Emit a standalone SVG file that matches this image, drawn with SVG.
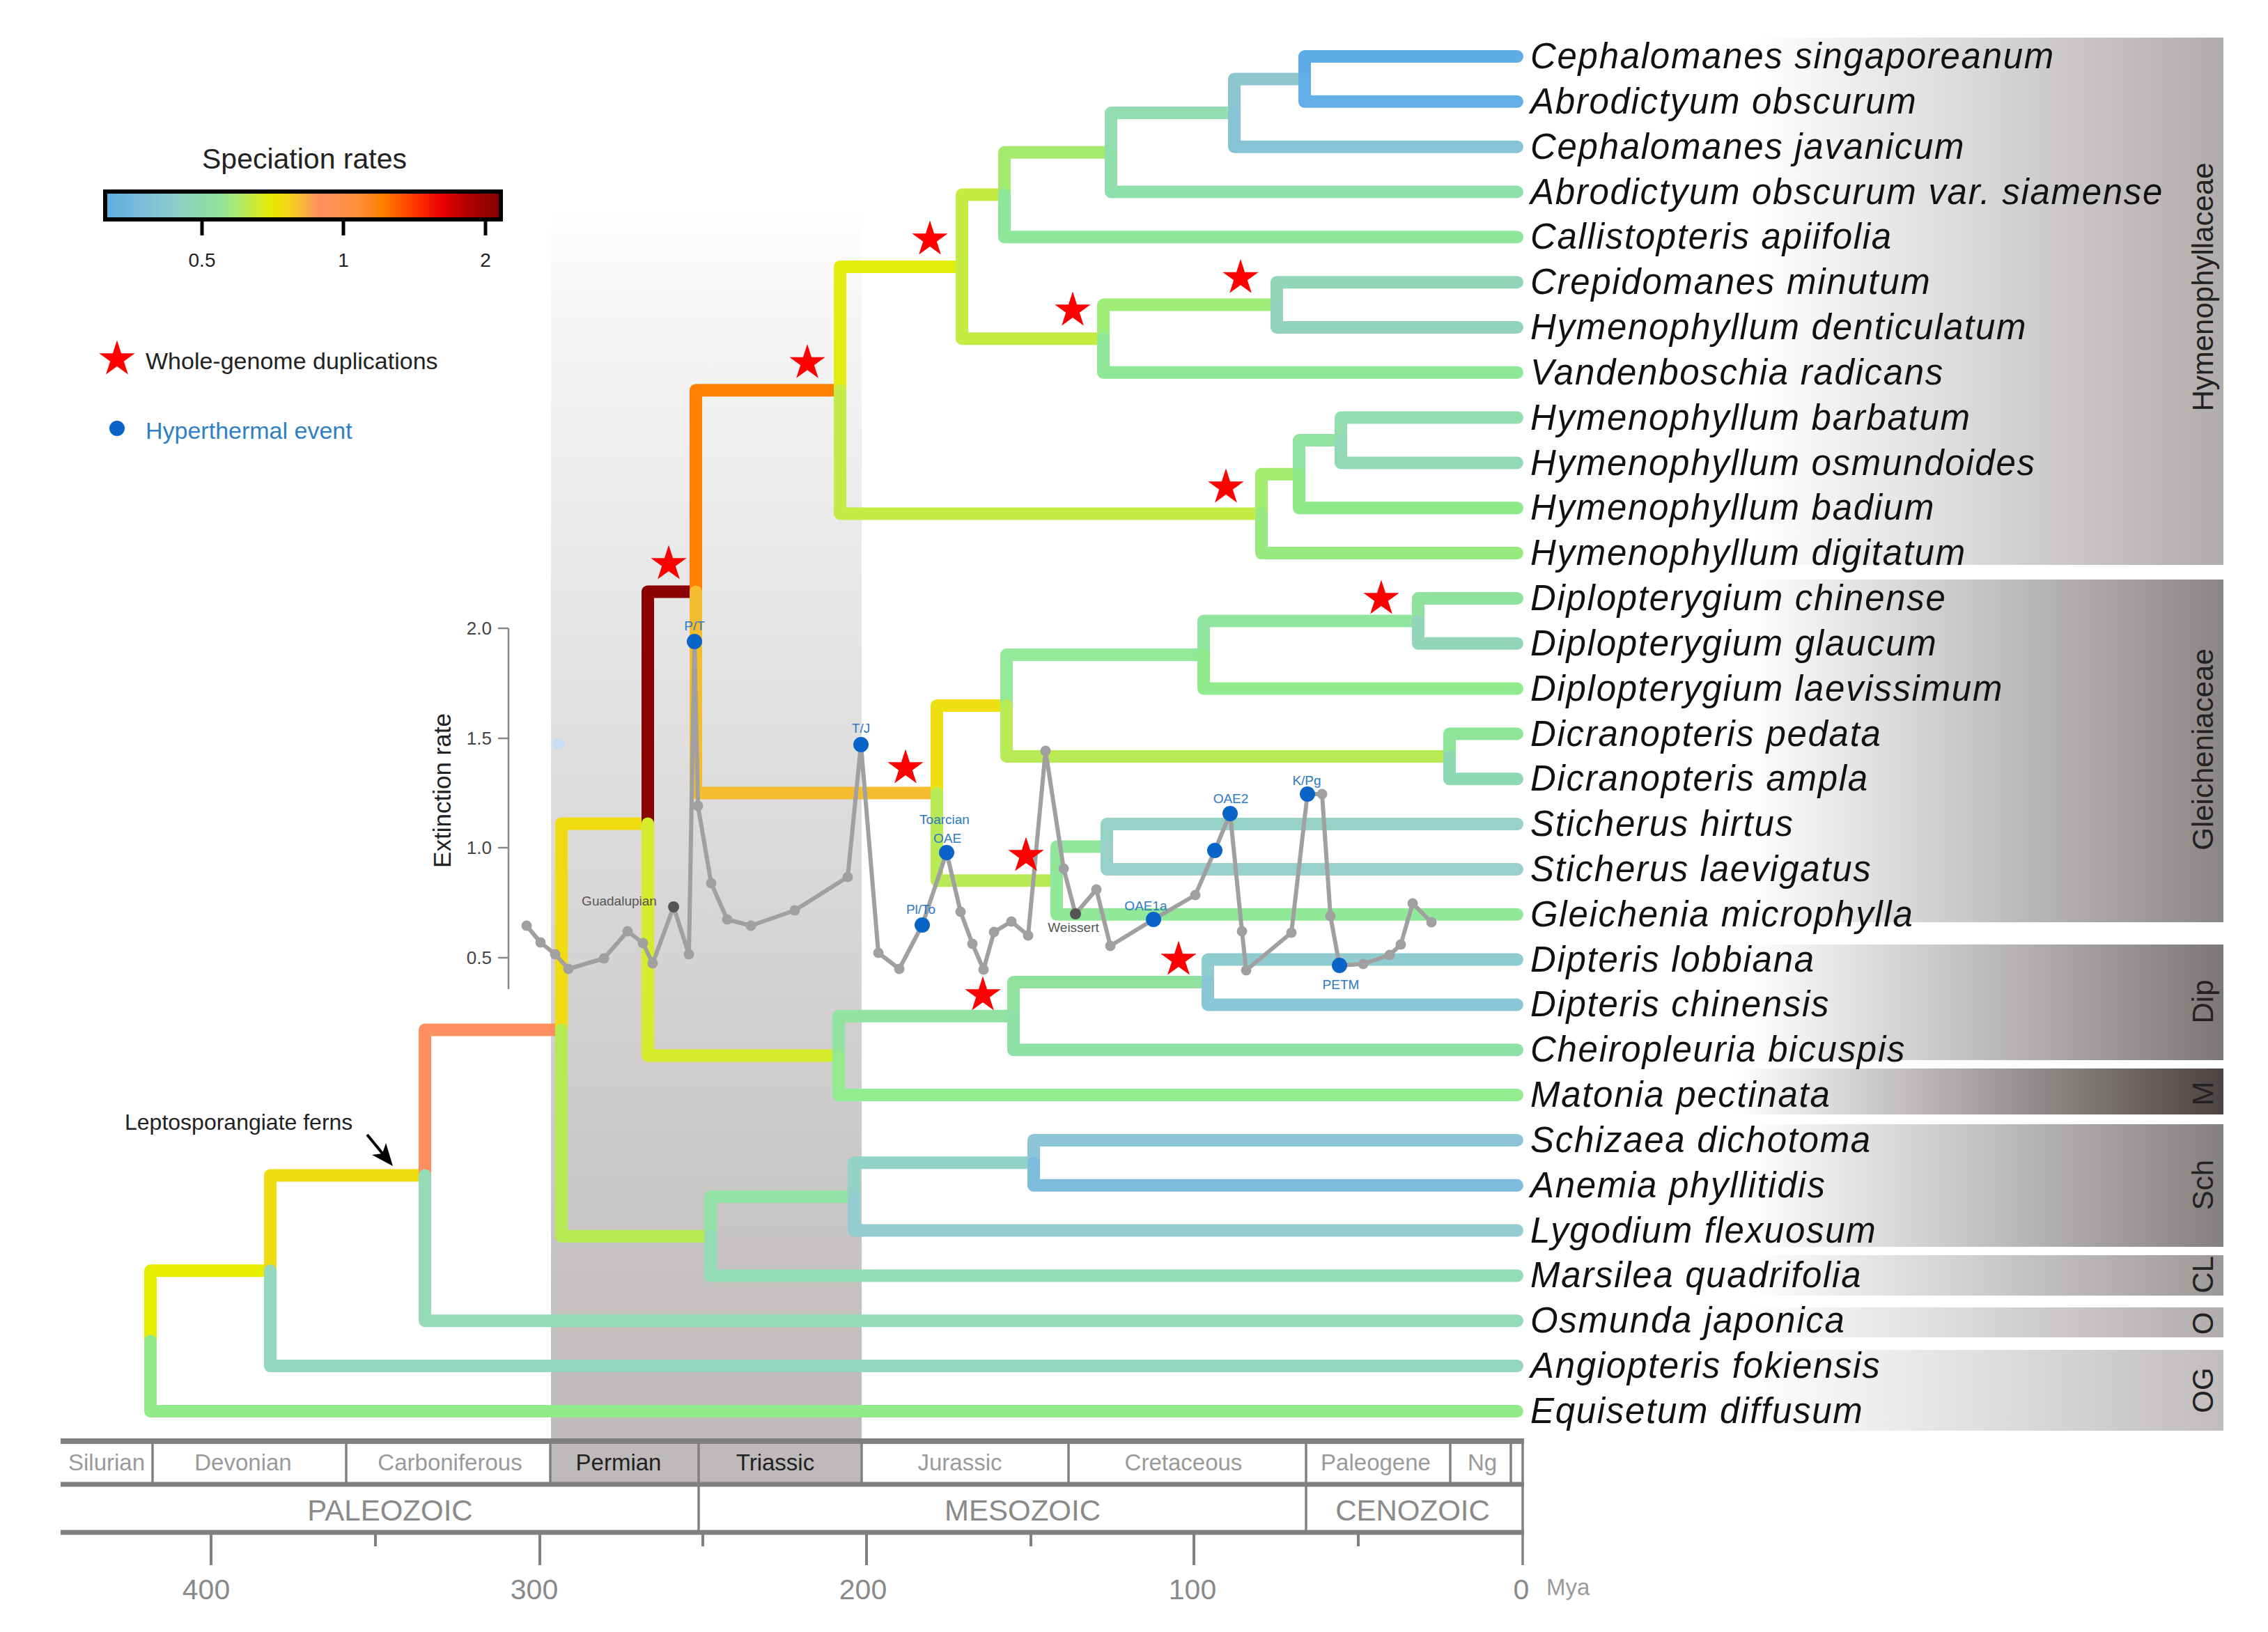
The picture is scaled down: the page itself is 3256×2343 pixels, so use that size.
<svg xmlns="http://www.w3.org/2000/svg" width="3256" height="2343" viewBox="0 0 3256 2343">
<style>
.br{fill:none;stroke-width:18;stroke-linecap:round;stroke-linejoin:round}
.tip{font-family:"Liberation Sans",Arial,sans-serif;font-style:italic;font-size:51px;letter-spacing:1.7px;fill:#111}
.grp{font-family:"Liberation Sans",Arial,sans-serif;font-size:42px;fill:#222;text-anchor:middle}
.per{font-family:"Liberation Sans",Arial,sans-serif;font-size:33px;fill:#9a9a9a;text-anchor:middle}
.perd{font-family:"Liberation Sans",Arial,sans-serif;font-size:33px;fill:#222;text-anchor:middle}
.era{font-family:"Liberation Sans",Arial,sans-serif;font-size:42px;fill:#8a8a8a;text-anchor:middle}
.axl{font-family:"Liberation Sans",Arial,sans-serif;font-size:41px;fill:#8a8a8a;text-anchor:middle}
.tl{stroke:#808080;fill:none}
.ev{font-family:"Liberation Sans",Arial,sans-serif;font-size:19px;fill:#2F78C4;text-anchor:middle}
.evg{font-family:"Liberation Sans",Arial,sans-serif;font-size:19px;fill:#555;text-anchor:middle}
.curve{fill:none;stroke:#A0A0A0;stroke-width:6;stroke-linejoin:round}
.gd{fill:#A0A0A0}
.bd{fill:#0A64C8}
.kd{fill:#555}
.lg{font-family:"Liberation Sans",Arial,sans-serif;fill:#222}
.yt{font-family:"Liberation Sans",Arial,sans-serif;font-size:26px;fill:#444;text-anchor:end}
.star{fill:#FF0000}
</style>
<defs>
<polygon id="star" points="0,-27 6.05,-8.33 25.68,-8.34 9.8,3.18 15.87,21.84 0,10.3 -15.87,21.84 -9.8,3.18 -25.68,-8.34 -6.05,-8.33"/>
<linearGradient id="band" x1="0" y1="0" x2="0" y2="1">
<stop offset="0" stop-color="#FFFFFF"/>
<stop offset="0.08" stop-color="#F6F6F6"/>
<stop offset="1" stop-color="#BDBAB9"/>
</linearGradient>
<linearGradient id="cbar" x1="0" y1="0" x2="1" y2="0">
<stop offset="0" stop-color="#5DADE2"/>
<stop offset="0.1" stop-color="#7EBDD8"/>
<stop offset="0.19" stop-color="#8ED0C5"/>
<stop offset="0.28" stop-color="#90E0A0"/>
<stop offset="0.32" stop-color="#A0E880"/>
<stop offset="0.36" stop-color="#C0EA50"/>
<stop offset="0.42" stop-color="#E8EA00"/>
<stop offset="0.47" stop-color="#F5D020"/>
<stop offset="0.54" stop-color="#FF9060"/>
<stop offset="0.63" stop-color="#FF9040"/>
<stop offset="0.7" stop-color="#FF8000"/>
<stop offset="0.79" stop-color="#FF3000"/>
<stop offset="0.85" stop-color="#E80000"/>
<stop offset="0.92" stop-color="#B00000"/>
<stop offset="1" stop-color="#800000"/>
</linearGradient>
<linearGradient id="gH" x1="0" y1="0" x2="1" y2="0"><stop offset="0" stop-color="#FFF"/><stop offset="0.33" stop-color="#FFF"/><stop offset="1" stop-color="#B0ACAB"/></linearGradient>
<linearGradient id="gG" x1="0" y1="0" x2="1" y2="0"><stop offset="0" stop-color="#FFF"/><stop offset="0.32" stop-color="#FFF"/><stop offset="1" stop-color="#8A8685"/></linearGradient>
<linearGradient id="gD" x1="0" y1="0" x2="1" y2="0"><stop offset="0" stop-color="#FFF"/><stop offset="0.32" stop-color="#FFF"/><stop offset="1" stop-color="#7C7776"/></linearGradient>
<linearGradient id="gM" x1="0" y1="0" x2="1" y2="0"><stop offset="0" stop-color="#FFF"/><stop offset="0.3" stop-color="#FFF"/><stop offset="1" stop-color="#4C4342"/></linearGradient>
<linearGradient id="gS" x1="0" y1="0" x2="1" y2="0"><stop offset="0" stop-color="#FFF"/><stop offset="0.32" stop-color="#FFF"/><stop offset="1" stop-color="#858080"/></linearGradient>
<linearGradient id="gC" x1="0" y1="0" x2="1" y2="0"><stop offset="0" stop-color="#FFF"/><stop offset="0.32" stop-color="#FFF"/><stop offset="1" stop-color="#9C9897"/></linearGradient>
<linearGradient id="gO" x1="0" y1="0" x2="1" y2="0"><stop offset="0" stop-color="#FFF"/><stop offset="0.32" stop-color="#FFF"/><stop offset="1" stop-color="#B0ACAB"/></linearGradient>
<linearGradient id="gOG" x1="0" y1="0" x2="1" y2="0"><stop offset="0" stop-color="#FFF"/><stop offset="0.32" stop-color="#FFF"/><stop offset="1" stop-color="#C0BDBC"/></linearGradient>
</defs>
<rect width="3256" height="2343" fill="#FFFFFF"/>

<!-- Permian-Triassic band -->
<rect id="pt-band" x="791" y="300" width="446" height="1769" fill="url(#band)"/>

<!-- clade boxes -->
<g id="clade-boxes">
<g id="box-Hymenophyllaceae"><rect x="2190" y="54" width="1002" height="757" fill="url(#gH)"/><text class="grp" transform="translate(3177,412) rotate(-90)">Hymenophyllaceae</text></g>
<g id="box-Gleicheniaceae"><rect x="2190" y="832" width="1002" height="492" fill="url(#gG)"/><text class="grp" transform="translate(3177,1076) rotate(-90)">Gleicheniaceae</text></g>
<g id="box-Dip"><rect x="2190" y="1356" width="1002" height="166" fill="url(#gD)"/><text class="grp" transform="translate(3177,1438) rotate(-90)">Dip</text></g>
<g id="box-M"><rect x="2190" y="1534" width="1002" height="66" fill="url(#gM)"/><text class="grp" transform="translate(3177,1570) rotate(-90)">M</text></g>
<g id="box-Sch"><rect x="2190" y="1614" width="1002" height="176" fill="url(#gS)"/><text class="grp" transform="translate(3177,1701) rotate(-90)">Sch</text></g>
<g id="box-CL"><rect x="2190" y="1802" width="1002" height="58" fill="url(#gC)"/><text class="grp" transform="translate(3177,1830) rotate(-90)">CL</text></g>
<g id="box-O"><rect x="2190" y="1877" width="1002" height="43" fill="url(#gO)"/><text class="grp" transform="translate(3177,1900) rotate(-90)">O</text></g>
<g id="box-OG"><rect x="2190" y="1938" width="1002" height="116" fill="url(#gOG)"/><text class="grp" transform="translate(3177,1996) rotate(-90)">OG</text></g>
</g>

<!-- tree branches -->
<g id="branches" class="br">
<path d="M216 1925.1V1824.25H388" stroke="#E8EC00"/>
<path d="M388 1824.25V1687.4H610" stroke="#F0DA10"/>
<path d="M610 1687.4V1478.55H806" stroke="#FF8F60"/>
<path d="M806 1478.55V1182.4H930" stroke="#F0DC10"/>
<path d="M930 1182.4V849.4H999" stroke="#8B0000"/>
<path d="M999 849.4V560.15H1206" stroke="#FF8000"/>
<path d="M1206 560.15V382.9H1381" stroke="#E5EC10"/>
<path d="M1381 382.9V279.55H1442" stroke="#C4EC42"/>
<path d="M1442 279.55V218.8H1595" stroke="#A3EA6E"/>
<path d="M1595 218.8V162.05H1772" stroke="#93DDB0"/>
<path d="M1772 162.05V113.4H1873" stroke="#8EC6CF"/>
<path d="M1873 113.4V81H2178" stroke="#5EACE6"/>
<path d="M1873 113.4V145.8H2178" stroke="#62AEE6"/>
<path d="M1772 162.05V210.7H2178" stroke="#86C3D6"/>
<path d="M1595 218.8V275.5H2178" stroke="#8EDFAA"/>
<path d="M1442 279.55V340.3H2178" stroke="#8EE69A"/>
<path d="M1381 382.9V486.2H1584" stroke="#C4EC42"/>
<path d="M1584 486.2V437.6H1833" stroke="#A0EC78"/>
<path d="M1833 437.6V405.2H2178" stroke="#92D5B8"/>
<path d="M1833 437.6V470H2178" stroke="#92D3BC"/>
<path d="M1584 486.2V534.8H2178" stroke="#8EE898"/>
<path d="M1206 560.15V737.4H1811" stroke="#C4EC45"/>
<path d="M1811 737.4V680.7H1865" stroke="#A2EC70"/>
<path d="M1865 680.7V632.05H1925" stroke="#92E4A2"/>
<path d="M1925 632.05V599.6H2178" stroke="#93DDAE"/>
<path d="M1925 632.05V664.5H2178" stroke="#93D9B5"/>
<path d="M1865 680.7V729.3H2178" stroke="#8EEA88"/>
<path d="M1811 737.4V794.1H2178" stroke="#98EA80"/>
<path d="M999 849.4V1138.6H1345" stroke="#F5BC30"/>
<path d="M1345 1138.6V1012.95H1445" stroke="#EEE012"/>
<path d="M1445 1012.95V940H1728" stroke="#93E998"/>
<path d="M1728 940V891.4H2036" stroke="#92E59E"/>
<path d="M2036 891.4V859H2178" stroke="#8EE29E"/>
<path d="M2036 891.4V923.8H2178" stroke="#92D5B8"/>
<path d="M1728 940V988.6H2178" stroke="#90EA8E"/>
<path d="M1445 1012.95V1085.9H2081" stroke="#B8EB55"/>
<path d="M2081 1085.9V1053.5H2178" stroke="#8EE59A"/>
<path d="M2081 1085.9V1118.3H2178" stroke="#8ED8B2"/>
<path d="M1345 1138.6V1264.2H1517" stroke="#B8EA55"/>
<path d="M1517 1264.2V1215.55H1589" stroke="#90E69A"/>
<path d="M1589 1215.55V1183.1H2178" stroke="#96D2C5"/>
<path d="M1589 1215.55V1248H2178" stroke="#98D0CC"/>
<path d="M1517 1264.2V1312.8H2178" stroke="#90E898"/>
<path d="M930 1182.4V1515.4H1204" stroke="#D4EC2C"/>
<path d="M1204 1515.4V1458.65H1455" stroke="#92E3A2"/>
<path d="M1455 1458.65V1410H1734" stroke="#90E29E"/>
<path d="M1734 1410V1377.6H2178" stroke="#8ECCD0"/>
<path d="M1734 1410V1442.4H2178" stroke="#8AC6D6"/>
<path d="M1455 1458.65V1507.3H2178" stroke="#8EE0A6"/>
<path d="M1204 1515.4V1572.1H2178" stroke="#92EB8E"/>
<path d="M806 1478.55V1774.7H1020" stroke="#B5EA52"/>
<path d="M1020 1774.7V1718H1226" stroke="#93E2A6"/>
<path d="M1226 1718V1669.35H1484" stroke="#93D3C5"/>
<path d="M1484 1669.35V1636.9H2178" stroke="#8CC6D6"/>
<path d="M1484 1669.35V1701.8H2178" stroke="#7EBCDE"/>
<path d="M1226 1718V1766.6H2178" stroke="#93CDD0"/>
<path d="M1020 1774.7V1831.4H2178" stroke="#93DCB5"/>
<path d="M610 1687.4V1896.2H2178" stroke="#95DBB8"/>
<path d="M388 1824.25V1961.1H2178" stroke="#95D7BE"/>
<path d="M216 1925.1V2025.9H2178" stroke="#92EB88"/>
</g>

<!-- tip labels -->
<g id="tip-labels" class="tip">
<g id="tip-0"><text x="2197" y="98">Cephalomanes singaporeanum</text></g>
<g id="tip-1"><text x="2197" y="162.8">Abrodictyum obscurum</text></g>
<g id="tip-2"><text x="2197" y="227.7">Cephalomanes javanicum</text></g>
<g id="tip-3"><text x="2197" y="292.5">Abrodictyum obscurum var. siamense</text></g>
<g id="tip-4"><text x="2197" y="357.3">Callistopteris apiifolia</text></g>
<g id="tip-5"><text x="2197" y="422.2">Crepidomanes minutum</text></g>
<g id="tip-6"><text x="2197" y="487">Hymenophyllum denticulatum</text></g>
<g id="tip-7"><text x="2197" y="551.8">Vandenboschia radicans</text></g>
<g id="tip-8"><text x="2197" y="616.6">Hymenophyllum barbatum</text></g>
<g id="tip-9"><text x="2197" y="681.5">Hymenophyllum osmundoides</text></g>
<g id="tip-10"><text x="2197" y="746.3">Hymenophyllum badium</text></g>
<g id="tip-11"><text x="2197" y="811.1">Hymenophyllum digitatum</text></g>
<g id="tip-12"><text x="2197" y="876">Diplopterygium chinense</text></g>
<g id="tip-13"><text x="2197" y="940.8">Diplopterygium glaucum</text></g>
<g id="tip-14"><text x="2197" y="1005.6">Diplopterygium laevissimum</text></g>
<g id="tip-15"><text x="2197" y="1070.5">Dicranopteris pedata</text></g>
<g id="tip-16"><text x="2197" y="1135.3">Dicranopteris ampla</text></g>
<g id="tip-17"><text x="2197" y="1200.1">Sticherus hirtus</text></g>
<g id="tip-18"><text x="2197" y="1265">Sticherus laevigatus</text></g>
<g id="tip-19"><text x="2197" y="1329.8">Gleichenia microphylla</text></g>
<g id="tip-20"><text x="2197" y="1394.6">Dipteris lobbiana</text></g>
<g id="tip-21"><text x="2197" y="1459.4">Dipteris chinensis</text></g>
<g id="tip-22"><text x="2197" y="1524.3">Cheiropleuria bicuspis</text></g>
<g id="tip-23"><text x="2197" y="1589.1">Matonia pectinata</text></g>
<g id="tip-24"><text x="2197" y="1653.9">Schizaea dichotoma</text></g>
<g id="tip-25"><text x="2197" y="1718.8">Anemia phyllitidis</text></g>
<g id="tip-26"><text x="2197" y="1783.6">Lygodium flexuosum</text></g>
<g id="tip-27"><text x="2197" y="1848.4">Marsilea quadrifolia</text></g>
<g id="tip-28"><text x="2197" y="1913.2">Osmunda japonica</text></g>
<g id="tip-29"><text x="2197" y="1978.1">Angiopteris fokiensis</text></g>
<g id="tip-30"><text x="2197" y="2042.9">Equisetum diffusum</text></g>
</g>

<!-- extinction rate plot -->
<g id="extinction-plot">
<g id="y-axis" stroke="#888" stroke-width="2.5">
<line x1="730" y1="902" x2="730" y2="1420"/>
<line x1="715" y1="902" x2="730" y2="902"/>
<line x1="715" y1="1060" x2="730" y2="1060"/>
<line x1="715" y1="1217" x2="730" y2="1217"/>
<line x1="715" y1="1375" x2="730" y2="1375"/>
</g>
<text class="yt" x="706" y="911">2.0</text>
<text class="yt" x="706" y="1069">1.5</text>
<text class="yt" x="706" y="1226">1.0</text>
<text class="yt" x="706" y="1384">0.5</text>
<text class="lg" font-size="35" text-anchor="middle" transform="translate(647,1135) rotate(-90)">Extinction rate</text>
<circle cx="802" cy="1068" r="9" fill="#C9DDF2"/>
<polyline class="curve" points="756,1329 776,1353 797,1370 816,1391 867,1376 901,1337 923,1354 937,1383 967,1302 989,1370 997,921 1002,1157 1021,1268 1044,1320 1078,1329 1141,1307 1217,1259 1236,1069 1261,1368 1291,1391 1324,1328 1359,1224 1379,1309 1396,1355 1412,1392 1427,1338 1452,1323 1476,1343 1501,1078 1527,1247 1544,1312 1574,1277 1594,1358 1656,1320 1716,1285 1744,1221 1766,1168 1783,1337 1789,1393 1854,1339 1877,1140 1898,1140 1910,1315 1923,1386 1957,1384 1995,1371 2011,1356 2028,1297 2055,1324"/>
<g class="gd">
<circle cx="756" cy="1329" r="7.5"/><circle cx="776" cy="1353" r="7.5"/><circle cx="797" cy="1370" r="7.5"/><circle cx="816" cy="1391" r="7.5"/><circle cx="867" cy="1376" r="7.5"/><circle cx="901" cy="1337" r="7.5"/><circle cx="923" cy="1354" r="7.5"/><circle cx="937" cy="1383" r="7.5"/><circle cx="989" cy="1370" r="7.5"/><circle cx="1002" cy="1157" r="7.5"/><circle cx="1021" cy="1268" r="7.5"/><circle cx="1044" cy="1320" r="7.5"/><circle cx="1078" cy="1329" r="7.5"/><circle cx="1141" cy="1307" r="7.5"/><circle cx="1217" cy="1259" r="7.5"/><circle cx="1261" cy="1368" r="7.5"/><circle cx="1291" cy="1391" r="7.5"/><circle cx="1379" cy="1309" r="7.5"/><circle cx="1396" cy="1355" r="7.5"/><circle cx="1412" cy="1392" r="7.5"/><circle cx="1427" cy="1338" r="7.5"/><circle cx="1452" cy="1323" r="7.5"/><circle cx="1476" cy="1343" r="7.5"/><circle cx="1501" cy="1078" r="7.5"/><circle cx="1527" cy="1247" r="7.5"/><circle cx="1574" cy="1277" r="7.5"/><circle cx="1594" cy="1358" r="7.5"/><circle cx="1716" cy="1285" r="7.5"/><circle cx="1783" cy="1337" r="7.5"/><circle cx="1789" cy="1393" r="7.5"/><circle cx="1854" cy="1339" r="7.5"/><circle cx="1898" cy="1140" r="7.5"/><circle cx="1910" cy="1315" r="7.5"/><circle cx="1957" cy="1384" r="7.5"/><circle cx="1995" cy="1371" r="7.5"/><circle cx="2011" cy="1356" r="7.5"/><circle cx="2028" cy="1297" r="7.5"/><circle cx="2055" cy="1324" r="7.5"/>
</g>
<g class="kd"><circle cx="967" cy="1302" r="8"/><circle cx="1544" cy="1312" r="8"/></g>
<g class="bd">
<circle cx="997" cy="921" r="11"/><circle cx="1236" cy="1069" r="11"/><circle cx="1324" cy="1328" r="11"/><circle cx="1359" cy="1224" r="11"/><circle cx="1656" cy="1320" r="11"/><circle cx="1744" cy="1221" r="11"/><circle cx="1766" cy="1168" r="11"/><circle cx="1877" cy="1140" r="11"/><circle cx="1923" cy="1386" r="11"/>
</g>
<text class="evg" x="889" y="1300">Guadalupian</text>
<text class="evg" x="1541" y="1338">Weissert</text>
<text class="ev" x="997" y="905">P/T</text>
<text class="ev" x="1236" y="1052">T/J</text>
<text class="ev" x="1356" y="1183">Toarcian</text>
<text class="ev" x="1360" y="1210">OAE</text>
<text class="ev" x="1322" y="1312">Pl/To</text>
<text class="ev" x="1645" y="1307">OAE1a</text>
<text class="ev" x="1767" y="1153">OAE2</text>
<text class="ev" x="1876" y="1127">K/Pg</text>
<text class="ev" x="1925" y="1420">PETM</text>
</g>

<!-- whole-genome duplication stars -->
<g id="wgd-stars" class="star">
<use href="#star" x="1335" y="343.6"/>
<use href="#star" x="1159" y="521"/>
<use href="#star" x="1540" y="445.6"/>
<use href="#star" x="1781" y="399"/>
<use href="#star" x="960" y="809.6"/>
<use href="#star" x="1760" y="699.6"/>
<use href="#star" x="1983" y="859.6"/>
<use href="#star" x="1300" y="1102.6"/>
<use href="#star" x="1473" y="1228.6"/>
<use href="#star" x="1411" y="1428.6"/>
<use href="#star" x="1692" y="1377.6"/>
</g>

<!-- Leptosporangiate ferns annotation -->
<g id="lepto-label">
<text class="lg" x="179" y="1622" font-size="32">Leptosporangiate ferns</text>
<line x1="527" y1="1629" x2="550" y2="1657" stroke="#000" stroke-width="4"/>
<polygon points="564,1674 534,1658 549,1656 554,1641" fill="#000"/>
</g>

<!-- legend -->
<g id="legend">
<text class="lg" x="437" y="242" font-size="41" text-anchor="middle">Speciation rates</text>
<rect x="151" y="275" width="568" height="40" fill="url(#cbar)" stroke="#000" stroke-width="6"/>
<g stroke="#000" stroke-width="5"><line x1="290" y1="318" x2="290" y2="338"/><line x1="493" y1="318" x2="493" y2="338"/><line x1="697" y1="318" x2="697" y2="338"/></g>
<text class="lg" x="290" y="383" font-size="28" text-anchor="middle" fill="#333">0.5</text>
<text class="lg" x="493" y="383" font-size="28" text-anchor="middle" fill="#333">1</text>
<text class="lg" x="697" y="383" font-size="28" text-anchor="middle" fill="#333">2</text>
<use href="#star" x="168" y="515.6" class="star"/>
<text class="lg" x="209" y="530" font-size="34">Whole-genome duplications</text>
<circle cx="168" cy="615" r="11" fill="#0A64C8"/>
<text class="lg" x="209" y="630" font-size="34" style="fill:#2F7FC6">Hyperthermal event</text>
</g>

<!-- geological timescale -->
<g id="timescale">
<rect x="790" y="2069" width="447" height="62" fill="#BDBAB9"/>
<g class="tl" stroke-width="3.5">
<line x1="219" y1="2069" x2="219" y2="2131"/>
<line x1="497" y1="2069" x2="497" y2="2131"/>
<line x1="790" y1="2069" x2="790" y2="2131"/>
<line x1="1003" y1="2069" x2="1003" y2="2200"/>
<line x1="1237" y1="2069" x2="1237" y2="2131"/>
<line x1="1534" y1="2069" x2="1534" y2="2131"/>
<line x1="1875" y1="2069" x2="1875" y2="2200"/>
<line x1="2082" y1="2069" x2="2082" y2="2131"/>
<line x1="2169" y1="2069" x2="2169" y2="2131"/>
<line x1="2186" y1="2069" x2="2186" y2="2247"/>
</g>
<g class="tl" stroke-width="8">
<line x1="87" y1="2069" x2="2188" y2="2069"/>
</g>
<g class="tl" stroke-width="7">
<line x1="87" y1="2131" x2="2188" y2="2131"/>
<line x1="87" y1="2200" x2="2188" y2="2200"/>
</g>
<g class="tl" stroke-width="4">
<line x1="303" y1="2200" x2="303" y2="2247"/>
<line x1="775" y1="2200" x2="775" y2="2247"/>
<line x1="1244" y1="2200" x2="1244" y2="2247"/>
<line x1="1714" y1="2200" x2="1714" y2="2247"/>
<line x1="539" y1="2200" x2="539" y2="2220"/>
<line x1="1009" y1="2200" x2="1009" y2="2220"/>
<line x1="1480" y1="2200" x2="1480" y2="2220"/>
<line x1="1950" y1="2200" x2="1950" y2="2220"/>
</g>
<text class="per" x="153" y="2111">Silurian</text>
<text class="per" x="349" y="2111">Devonian</text>
<text class="per" x="646" y="2111">Carboniferous</text>
<text class="perd" x="888" y="2111">Permian</text>
<text class="perd" x="1113" y="2111">Triassic</text>
<text class="per" x="1378" y="2111">Jurassic</text>
<text class="per" x="1699" y="2111">Cretaceous</text>
<text class="per" x="1975" y="2111">Paleogene</text>
<text class="per" x="2128" y="2111">Ng</text>
<text class="era" x="560" y="2183">PALEOZOIC</text>
<text class="era" x="1468" y="2183">MESOZOIC</text>
<text class="era" x="2028" y="2183">CENOZOIC</text>
<text class="axl" x="296" y="2296">400</text>
<text class="axl" x="767" y="2296">300</text>
<text class="axl" x="1239" y="2296">200</text>
<text class="axl" x="1712" y="2296">100</text>
<text class="axl" x="2184" y="2296">0</text>
<text x="2220" y="2290" font-family="Liberation Sans, Arial, sans-serif" font-size="33" fill="#9a9a9a">Mya</text>
</g>
</svg>
